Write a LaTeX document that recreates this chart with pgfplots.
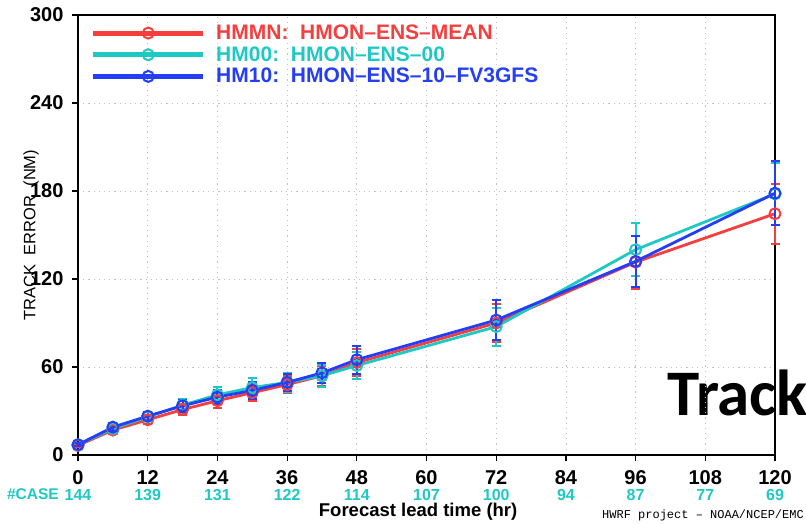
\documentclass[border=0pt]{standalone}
\usepackage{fontspec}
\setmainfont{Liberation Sans}
\newfontfamily\carlito{Carlito}
\newfontfamily\monofont{Liberation Mono}
\usepackage{pgfplots}
\pgfplotsset{compat=1.18}
\definecolor{cred}{RGB}{245,62,62}
\definecolor{cteal}{RGB}{30,200,195}
\definecolor{cblue}{RGB}{35,62,245}

\pgfplotstableread{
x y e
0 6.5 1
6 17 2.5
12 24 3
18 31 4
24 37 5
30 42.5 5.5
36 48 6
42 54 7
48 63 9
72 90 13
96 131.5 18
120 164.5 20.5
}\hmmn
\pgfplotstableread{
x y e
0 7 1
6 18 2.5
12 26 3
18 34 4.5
24 41 5.5
30 46 6.5
36 49.5 6.5
42 54 7.5
48 61 9.5
72 87.5 13
96 140 18
120 178 21
}\hmzz
\pgfplotstableread{
x y e
0 7 1
6 19 2.5
12 26.5 3
18 33.5 4
24 39.5 5
30 44 6
36 49.5 6
42 56 7
48 65 9.5
72 92 13.5
96 132 17.5
120 178.5 22
}\hmten

\pgfplotsset{
  mylegend/.style={legend image code/.code={
      \draw[#1,line width=5pt] (0pt,0pt) -- (110pt,0pt);
      \draw[#1,line width=2pt] (55pt,0pt) circle (5.5pt);
      \path[draw=none,fill=none] (0pt,0pt) -- (122pt,0pt);}},
  myplot/.style={#1, line width=2.8pt, mark=o, mark size=5.5pt,
      mark options={line width=2pt, solid},
      error bars/.cd, y dir=both, y explicit,
      error bar style={line width=2pt, #1},
      error mark options={rotate=90, line width=2pt, mark size=4.5pt, #1},
      /pgfplots/.cd},
}

\begin{document}
\begin{tikzpicture}
\path[use as bounding box] (-78pt,-68pt) rectangle (728pt,455pt);
\node[anchor=base west, inner sep=0pt, font=\carlito\bfseries\fontsize{65}{65}\selectfont] at (589pt,40pt) {Track};
\begin{axis}[
  at={(0pt,0pt)}, anchor=south west,
  scale only axis, width=697pt, height=440pt,
  xmin=0, xmax=120, ymin=0, ymax=300,
  xtick={0,12,...,120}, ytick={0,60,...,300},
  xtick pos=bottom, ytick pos=left,
  tick align=outside, major tick length=6pt,
  axis line style={line width=1.2pt, black},
  tick style={line width=1.2pt, black},
  grid=major,
  grid style={gray!50, line width=0.8pt, dash pattern=on 1.2pt off 4pt},
  /pgf/number format/assume math mode=true,
  ticklabel style={font=\bfseries\fontsize{20}{20}\selectfont},
  xticklabel style={yshift=-5.5pt},
  yticklabel style={xshift=-5pt},
  extra x ticks={0,12,...,120},
  extra x tick labels={144,139,131,122,114,107,100,94,87,77,69},
  extra x tick style={grid=none, major tick length=0pt,
     xticklabel style={font=\bfseries\fontsize{16}{16}\selectfont, text=cteal, yshift=-25pt}},
  ylabel={TRACK\ \ ERROR\ \ (NM)},
  ylabel style={at={(axis description cs:-0.0674,0.5)}, anchor=center,
     font=\fontsize{16.5}{16.5}\selectfont, inner sep=1pt},
  xlabel={Forecast lead time (hr)},
  xlabel style={at={(axis description cs:0.488,-0.13)}, anchor=center,
     font=\bfseries\fontsize{18.5}{18.5}\selectfont},
  legend style={draw=none, fill=none, at={(axis description cs:0.018,0.98)},
     anchor=north west, inner sep=0pt, row sep=3.5pt,
     nodes={inner sep=1pt},
     font=\bfseries\fontsize{21}{21}\selectfont},
  legend cell align=left,
  clip=false,
]
\addplot[mylegend=cred, myplot=cred] table[x=x,y=y,y error=e] {\hmmn};
\addlegendentry{\textcolor{cred}{HMMN:\ \ HMON--ENS--MEAN}}
\addplot[mylegend=cteal, myplot=cteal] table[x=x,y=y,y error=e] {\hmzz};
\addlegendentry{\textcolor{cteal}{HM00:\ \ HMON--ENS--00}}
\addplot[mylegend=cblue, myplot=cblue] table[x=x,y=y,y error=e] {\hmten};
\addlegendentry{\textcolor{cblue}{HM10:\ \ HMON--ENS--10--FV3GFS}}
\end{axis}
\node[anchor=base east, inner sep=0pt, text=cteal, font=\bfseries\fontsize{15.5}{15.5}\selectfont] at (-19pt,-44pt) {\#CASE};
\node[anchor=base east, inner sep=0pt, font=\monofont\fontsize{12}{12}\selectfont] at (726pt,-63pt) {HWRF project – NOAA/NCEP/EMC};
\end{tikzpicture}
\end{document}
